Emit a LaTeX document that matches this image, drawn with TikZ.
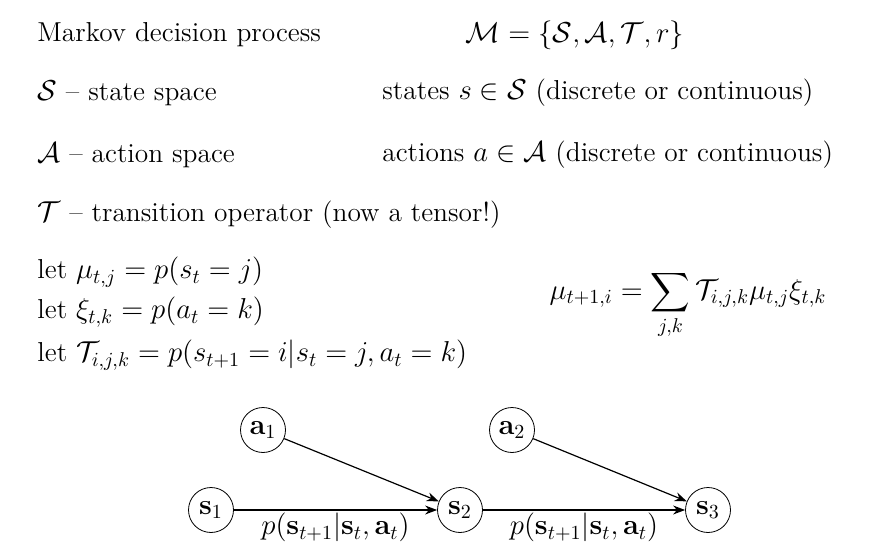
\documentclass[tikz,border=0pt]{standalone}
\usepackage{amsmath,amssymb}
\usetikzlibrary{arrows.meta}
\begin{document}
\begin{tikzpicture}[x=0.5pt,y=-0.5pt,font=\fontsize{13.7}{16}\selectfont,
  txt/.style={anchor=west,inner sep=0},
  st/.style={draw,circle,minimum size=45*0.5pt,inner sep=0.5pt},
  arr/.style={-{Stealth[length=6pt]},semithick}]
\useasboundingbox (0,0) rectangle (879,551);
\node[txt] (l1) at (37,35) {Markov decision process};
\node (m) at (575,35) {$\mathcal{M}=\{\mathcal{S},\mathcal{A},\mathcal{T},r\}$};
\node[txt] (l2) at (37,93) {$\mathcal{S}$ -- state space};
\node[txt] (r2) at (382,93) {states $s\in\mathcal{S}$ (discrete or continuous)};
\node[txt] (l3) at (37,155) {$\mathcal{A}$ -- action space};
\node[txt] (r3) at (382,155) {actions $a\in\mathcal{A}$ (discrete or continuous)};
\node[txt] (l4) at (37,215) {$\mathcal{T}$ -- transition operator (now a tensor!)};
\node[txt] (l5) at (37,272) {let $\mu_{t,j}=p(s_t=j)$};
\node[txt] (l6) at (37,312) {let $\xi_{t,k}=p(a_t=k)$};
\node[txt] (l7) at (37,355) {let $\mathcal{T}_{i,j,k}=p(s_{t+1}=i|s_t=j,a_t=k)$};
\node (eq) at (688,305) {$\displaystyle \mu_{t+1,i}=\sum_{j,k}\mathcal{T}_{i,j,k}\mu_{t,j}\xi_{t,k}$};
\node[st] (a1) at (263,430) {$\mathbf{a}_1$};
\node[st] (s1) at (211,510) {$\mathbf{s}_1$};
\node[st] (s2) at (460,510) {$\mathbf{s}_2$};
\node[st] (a2) at (512,430) {$\mathbf{a}_2$};
\node[st] (s3) at (708,510) {$\mathbf{s}_3$};
\draw[arr] (s1) -- node[below=-2pt] {$p(\mathbf{s}_{t+1}|\mathbf{s}_t,\mathbf{a}_t)$} (s2);
\draw[arr] (s2) -- node[below=-2pt] {$p(\mathbf{s}_{t+1}|\mathbf{s}_t,\mathbf{a}_t)$} (s3);
\draw[arr] (a1) -- (s2);
\draw[arr] (a2) -- (s3);
\end{tikzpicture}
\end{document}
